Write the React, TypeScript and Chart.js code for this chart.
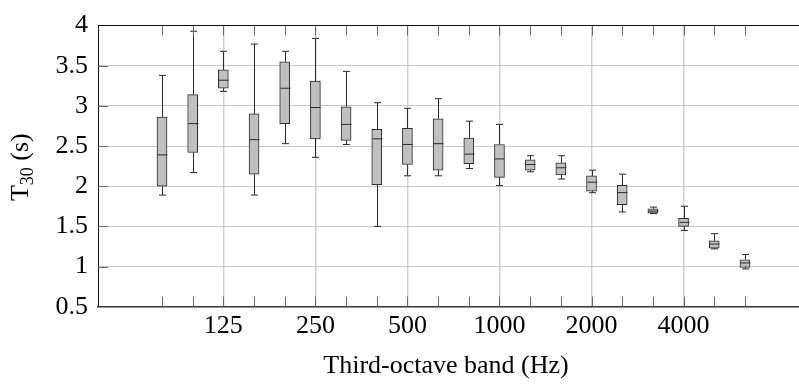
import React, { useEffect, useRef } from 'react';
import { Chart, registerables } from 'chart.js';

Chart.register(...registerables);

// Third-octave bands (Hz)
const BANDS = ['80', '100', '125', '160', '200', '250', '315', '400', '500', '630', '800', '1000', '1250', '1600', '2000', '2500', '3150', '4000', '5000', '6300'];
const LABELLED_BANDS = ['125', '250', '500', '1000', '2000', '4000'];

// Box-plot statistics of T30 (s)
const WHISKER_MAX = [3.38, 3.93, 3.68, 3.77, 3.68, 3.84, 3.43, 3.04, 2.97, 3.09, 2.81, 2.77, 2.38, 2.38, 2.2, 2.15, 1.74, 1.75, 1.41, 1.15];
const Q3 = [2.86, 3.14, 3.45, 2.9, 3.55, 3.31, 2.99, 2.71, 2.72, 2.84, 2.6, 2.52, 2.33, 2.29, 2.13, 2.01, 1.72, 1.6, 1.32, 1.085];
const MEDIAN = [2.39, 2.78, 3.32, 2.58, 3.22, 2.98, 2.77, 2.59, 2.52, 2.53, 2.4, 2.34, 2.27, 2.23, 2.05, 1.92, 1.69, 1.55, 1.28, 1.045];
const Q1 = [2.0, 2.42, 3.22, 2.15, 2.78, 2.59, 2.57, 2.02, 2.27, 2.2, 2.28, 2.11, 2.2, 2.14, 1.94, 1.77, 1.665, 1.5, 1.23, 0.99];
const WHISKER_MIN = [1.89, 2.17, 3.18, 1.89, 2.53, 2.36, 2.52, 1.5, 2.13, 2.13, 2.22, 2.01, 2.18, 2.09, 1.92, 1.68, 1.66, 1.45, 1.22, 0.97];

const Y_MIN = 0.5;
const Y_MAX = 4;
const Y_STEP = 0.5;
const X_MIN = -2.086;
const X_MAX = 20.763;

const X_TITLE = 'Third-octave band (Hz)';
const Y_TITLE_MAIN = 'T';
const Y_TITLE_SUB = '30';
const Y_TITLE_UNIT = ' (s)';

const FONT = '"Liberation Serif", "Times New Roman", serif';

export default function App() {
  const ref = useRef<HTMLCanvasElement>(null);

  useEffect(() => {
    document.body.style.margin = '0';
    const canvas = ref.current;
    if (!canvas) return;

    const majorIdx = LABELLED_BANDS.map((b) => BANDS.indexOf(b));

    const extras = {
      id: 'boxExtras',
      afterDatasetsDraw(chart: any) {
        const ctx = chart.ctx;
        const xs = chart.scales.x;
        const ys = chart.scales.y;
        ctx.save();
        ctx.strokeStyle = '#2a2a2a';
        ctx.lineWidth = 1;
        const half = 5;
        const cap = 3.5;
        for (let i = 0; i < BANDS.length; i++) {
          const px = Math.round(xs.getPixelForValue(i)) + 0.5;
          const yMax = ys.getPixelForValue(WHISKER_MAX[i]);
          const yQ3 = ys.getPixelForValue(Q3[i]);
          const yMed = ys.getPixelForValue(MEDIAN[i]);
          const yQ1 = ys.getPixelForValue(Q1[i]);
          const yMin = ys.getPixelForValue(WHISKER_MIN[i]);
          ctx.beginPath();
          ctx.moveTo(px, yQ3);
          ctx.lineTo(px, yMax);
          ctx.moveTo(px - cap, yMax);
          ctx.lineTo(px + cap, yMax);
          ctx.moveTo(px, yQ1);
          ctx.lineTo(px, yMin);
          ctx.moveTo(px - cap, yMin);
          ctx.lineTo(px + cap, yMin);
          ctx.moveTo(px - half, yMed);
          ctx.lineTo(px + half, yMed);
          ctx.stroke();
        }
        ctx.restore();
      },
      afterDraw(chart: any) {
        const ctx = chart.ctx;
        const xs = chart.scales.x;
        const ys = chart.scales.y;
        const area = chart.chartArea;
        ctx.save();
        // inward minor ticks
        ctx.strokeStyle = '#666';
        ctx.lineWidth = 1;
        ctx.beginPath();
        for (let i = 0; i < BANDS.length; i++) {
          const px = Math.round(xs.getPixelForValue(i)) + 0.5;
          ctx.moveTo(px, area.bottom);
          ctx.lineTo(px, area.bottom - 10);
          ctx.moveTo(px, area.top);
          ctx.lineTo(px, area.top + 10);
        }
        for (let v = Y_MIN + Y_STEP; v < Y_MAX; v += Y_STEP) {
          const py = Math.round(ys.getPixelForValue(v)) + 0.5;
          ctx.moveTo(area.left, py);
          ctx.lineTo(area.left + 10, py);
        }
        ctx.stroke();

        // axis titles
        ctx.fillStyle = '#000';
        ctx.font = `26px ${FONT}`;
        ctx.textAlign = 'center';
        ctx.textBaseline = 'alphabetic';
        ctx.fillText(X_TITLE, 446, 373);

        const cy = (area.top + area.bottom) / 2 + 1;
        ctx.translate(28, cy);
        ctx.rotate(-Math.PI / 2);
        ctx.textAlign = 'left';
        ctx.font = `26px ${FONT}`;
        const wT = ctx.measureText(Y_TITLE_MAIN).width;
        const wU = ctx.measureText(Y_TITLE_UNIT).width;
        ctx.font = `18px ${FONT}`;
        const wS = ctx.measureText(Y_TITLE_SUB).width;
        const total = wT + wS + wU;
        let x0 = -total / 2;
        ctx.font = `26px ${FONT}`;
        ctx.fillText(Y_TITLE_MAIN, x0, 0);
        x0 += wT;
        ctx.font = `18px ${FONT}`;
        ctx.fillText(Y_TITLE_SUB, x0, 5);
        x0 += wS;
        ctx.font = `26px ${FONT}`;
        ctx.fillText(Y_TITLE_UNIT, x0, 0);
        ctx.restore();
      },
    };

    const chart = new Chart(canvas, {
      type: 'bar',
      data: {
        datasets: [
          {
            data: BANDS.map((_, i) => ({ x: i, y: [Q1[i], Q3[i]] })) as any,
            backgroundColor: '#c0c0c0',
            borderColor: '#2a2a2a',
            borderWidth: 1,
            borderSkipped: false,
            barThickness: 10,
          },
        ],
      },
      options: {
        animation: false,
        responsive: false,
        layout: { padding: 0 },
        plugins: { legend: { display: false }, tooltip: { enabled: false } },
        scales: {
          x: {
            type: 'linear',
            position: 'bottom',
            min: X_MIN,
            max: X_MAX,
            offset: false,
            afterBuildTicks: (scale: any) => {
              scale.ticks = majorIdx.map((v) => ({ value: v }));
            },
            afterFit: (scale: any) => {
              scale.height = 78.3;
            },
            ticks: {
              autoSkip: false,
              maxRotation: 0,
              padding: 4,
              color: '#000',
              font: { family: FONT, size: 26 },
              callback: (v: any) => BANDS[v] ?? '',
            },
            grid: { color: '#d2d2d2', lineWidth: 1.5, drawTicks: false, offset: false },
            border: { display: true, color: '#333', width: 1.5 },
          },
          xTop: {
            type: 'linear',
            position: 'top',
            min: X_MIN,
            max: X_MAX,
            offset: false,
            afterFit: (scale: any) => {
              scale.height = 11;
            },
            ticks: { display: false },
            grid: { display: false, drawTicks: false },
            border: { display: true, color: '#111', width: 1 },
          },
          y: {
            type: 'linear',
            min: Y_MIN,
            max: Y_MAX,
            afterFit: (scale: any) => {
              scale.width = 98;
            },
            ticks: {
              stepSize: Y_STEP,
              padding: 10,
              color: '#000',
              font: { family: FONT, size: 26 },
              callback: (v: any) => String(Math.round(Number(v) * 10) / 10),
            },
            grid: { color: '#c8c8c8', lineWidth: 1, drawTicks: false },
            border: { display: true, color: '#111', width: 1 },
          },
        },
      },
      plugins: [extras],
    } as any);

    return () => chart.destroy();
  }, []);

  return (
    <div style={{ width: 799, height: 385 }}>
      <canvas ref={ref} width={799} height={385} style={{ display: 'block' }} />
    </div>
  );
}
